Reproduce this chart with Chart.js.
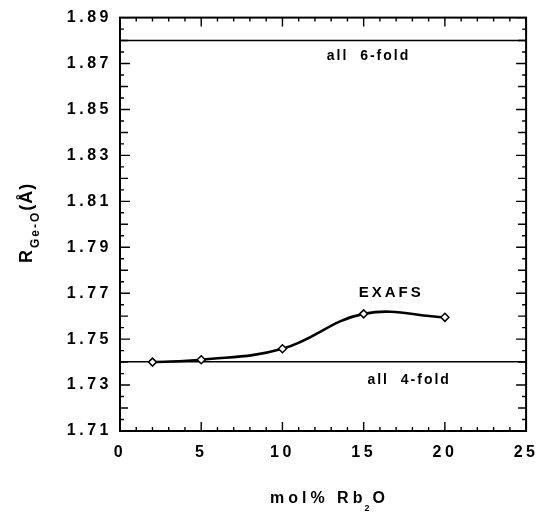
<!DOCTYPE html>
<html>
<head>
<meta charset="utf-8">
<script src="https://cdn.jsdelivr.net/npm/chart.js@4/dist/chart.umd.min.js"></script>
<style>
  html, body { margin: 0; padding: 0; background: #fff; }
</style>
</head>
<body>
<canvas id="chart" width="547" height="512"></canvas>
<script>
// R(Ge-O) vs mol% Rb2O, EXAFS curve with the 4-fold / 6-fold reference lines.

const molPct = [2, 5, 10, 15, 20];
const exafsR = [1.740, 1.741, 1.7458, 1.761, 1.7595];
const refX = [0, 25];
const sixFoldR = [1.880, 1.880];
const fourFoldR = [1.7402, 1.7402];
const xTicks = [0, 5, 10, 15, 20, 25];
const yTicks = [1.71, 1.73, 1.75, 1.77, 1.79, 1.81, 1.83, 1.85, 1.87, 1.89];
const notes = [
  { text: "EXAFS", x: 16.7, y: 1.7703, size: 15, spacing: "3px" },
  { text: "all  6-fold", x: 15.3, y: 1.8731, size: 14, spacing: "2px" },
  { text: "all  4-fold", x: 17.8, y: 1.7321, size: 14, spacing: "2px" },
];

const FONT = '"Liberation Sans", Arial, sans-serif';
const SPACING = "3.5px";

const toPoints = (xs, ys) => xs.map((x, i) => ({ x, y: ys[i] }));

const decorations = {
  id: "decorations",
  beforeDraw(chart) {
    chart.ctx.letterSpacing = SPACING;
  },
  afterDraw(chart) {
    const { ctx, chartArea: a, scales: { x, y } } = chart;
    ctx.save();
    ctx.letterSpacing = "0px";
    ctx.strokeStyle = "#000";
    ctx.fillStyle = "#000";

    // frame
    ctx.lineWidth = 2;
    ctx.strokeRect(a.left, a.top, a.right - a.left, a.bottom - a.top);

    // inward ticks on all four sides
    ctx.lineWidth = 1.4;
    ctx.beginPath();
    for (let i = 0; i <= 25; i++) {
      const px = x.getPixelForValue(i);
      const len = i % 5 === 0 ? 9 : 4;
      ctx.moveTo(px, a.bottom); ctx.lineTo(px, a.bottom - len);
      ctx.moveTo(px, a.top); ctx.lineTo(px, a.top + len);
    }
    for (let k = 0; k <= 36; k++) {
      const py = y.getPixelForValue(1.71 + k * 0.005);
      const len = k % 4 === 0 ? 10 : k % 2 === 0 ? 8 : 4;
      ctx.moveTo(a.left, py); ctx.lineTo(a.left + len, py);
      ctx.moveTo(a.right, py); ctx.lineTo(a.right - len, py);
    }
    ctx.stroke();

    // annotations
    ctx.textAlign = "center";
    ctx.textBaseline = "middle";
    notes.forEach((n) => {
      ctx.font = `bold ${n.size}px ${FONT}`;
      ctx.letterSpacing = n.spacing;
      ctx.fillText(n.text, x.getPixelForValue(n.x), y.getPixelForValue(n.y));
    });

    // x title: mol% Rb2O
    ctx.textAlign = "left";
    ctx.textBaseline = "alphabetic";
    ctx.letterSpacing = "4px";
    ctx.font = `bold 16px ${FONT}`;
    let cx = 270;
    const base = 503;
    ctx.fillText("mol% Rb", cx, base);
    cx += ctx.measureText("mol% Rb").width;
    ctx.font = `bold 9px ${FONT}`;
    ctx.letterSpacing = "1px";
    ctx.fillText("2", cx - 2, base + 8);
    cx += ctx.measureText("2").width;
    ctx.font = `bold 16px ${FONT}`;
    ctx.letterSpacing = "4px";
    ctx.fillText("O", cx, base);

    // y title: R Ge-O (Å), rotated
    ctx.translate(32, 263);
    ctx.rotate(-Math.PI / 2);
    let u = 0;
    ctx.font = `bold 18px ${FONT}`;
    ctx.letterSpacing = "2px";
    ctx.fillText("R", u, 0);
    u += ctx.measureText("R").width;
    ctx.font = `bold 12px ${FONT}`;
    ctx.letterSpacing = "2px";
    ctx.fillText("Ge-O", u, 7);
    u += ctx.measureText("Ge-O").width;
    ctx.font = `bold 18px ${FONT}`;
    ctx.letterSpacing = "1px";
    ctx.fillText("(Å)", u, 0);

    ctx.restore();
  },
};

new Chart(document.getElementById("chart"), {
  type: "line",
  data: {
    datasets: [
      {
        label: "EXAFS",
        data: toPoints(molPct, exafsR),
        borderColor: "#000",
        borderWidth: 2.6,
        tension: 0.4,
        pointStyle: "rectRot",
        pointRadius: 4,
        pointBorderWidth: 1.5,
        pointBorderColor: "#000",
        pointBackgroundColor: "#fff",
      },
      {
        label: "all 6-fold",
        data: toPoints(refX, sixFoldR),
        borderColor: "#000",
        borderWidth: 1.5,
        pointRadius: 0,
      },
      {
        label: "all 4-fold",
        data: toPoints(refX, fourFoldR),
        borderColor: "#000",
        borderWidth: 1.5,
        pointRadius: 0,
      },
    ],
  },
  options: {
    responsive: false,
    animation: false,
    devicePixelRatio: 1,
    layout: { padding: { top: 16, right: 13, left: 0, bottom: 0 } },
    plugins: { legend: { display: false }, tooltip: { enabled: false } },
    scales: {
      x: {
        type: "linear",
        min: 0,
        max: 25,
        afterBuildTicks: (s) => { s.ticks = xTicks.map((v) => ({ value: v })); },
        afterFit: (s) => { s.height = 81; },
        ticks: { color: "#000", padding: 12, maxRotation: 0, font: { family: FONT, size: 16, weight: "bold" }, callback: (v) => String(v) },
        grid: { display: false, drawTicks: false },
        border: { display: false },
      },
      y: {
        type: "linear",
        min: 1.71,
        max: 1.89,
        afterBuildTicks: (s) => { s.ticks = yTicks.map((v) => ({ value: v })); },
        afterFit: (s) => { s.width = 120; },
        ticks: { color: "#000", padding: 8, font: { family: FONT, size: 16, weight: "bold" }, callback: (v) => v.toFixed(2) },
        grid: { display: false, drawTicks: false },
        border: { display: false },
      },
    },
  },
  plugins: [decorations],
});
</script>
</body>
</html>
